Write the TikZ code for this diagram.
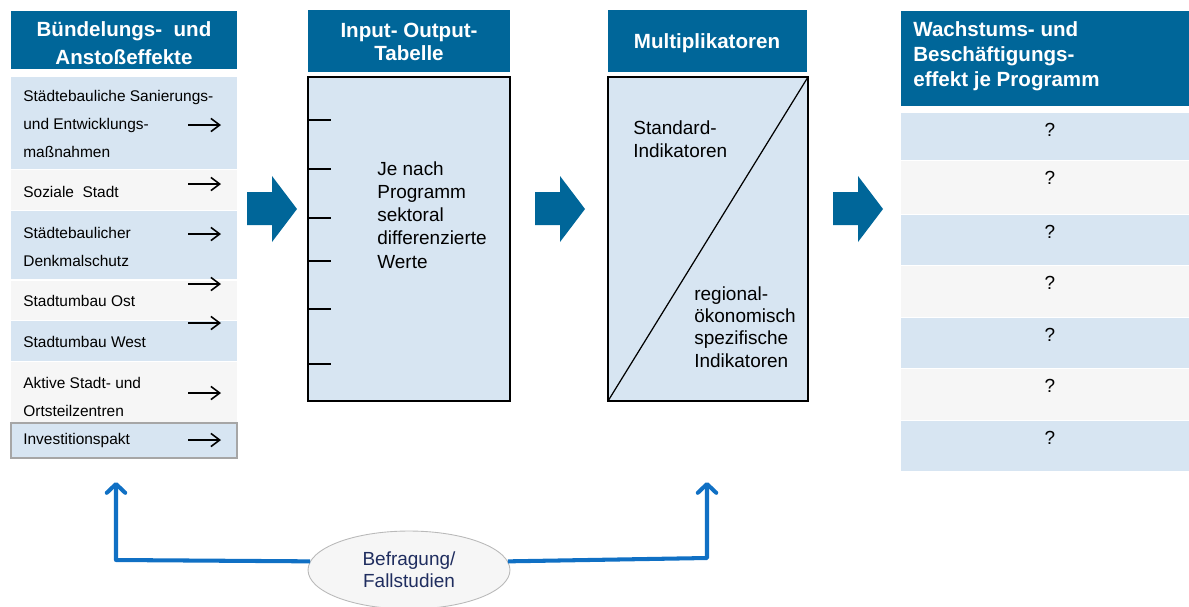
\documentclass[tikz,border=0pt]{standalone}
\usepackage{fontspec}
\setmainfont{Liberation Sans}
\usetikzlibrary{arrows.meta,shapes.geometric}

\definecolor{kopfblau}{RGB}{0,102,153}
\definecolor{hellblau}{RGB}{215,229,242}
\definecolor{hellgrau}{RGB}{246,246,246}
\definecolor{linienblau}{RGB}{16,112,196}
\definecolor{textblau}{RGB}{31,45,95}

\tikzset{
  kopf/.style={text=white,inner sep=0pt,font=\bfseries\fontsize{11.7}{15.9}\selectfont},
  eintrag/.style={anchor=west,align=left,inner sep=0pt,font=\fontsize{8.8}{15.9}\selectfont},
  inhalt/.style={anchor=west,align=left,inner sep=0pt,font=\fontsize{10.8}{13.2}\selectfont},
  frage/.style={inner sep=0pt,font=\fontsize{10.8}{13}\selectfont},
  listpfeil/.style={line width=0.9pt,-{Straight Barb[length=5pt,width=7.5pt]}},
  blaupfeil/.style={linienblau,line width=2.3pt,line join=round,-{Straight Barb[length=5pt,width=10.5pt,round]}}
}

\begin{document}
\begin{tikzpicture}[x=0.02cm,y=-0.02cm]
  \useasboundingbox (0,0) rectangle (1189,606);

  %headers
  \fill[kopfblau] (11,11) rectangle (237,69);
  \node[kopf,align=center] (k1) at (124,43) {Bündelungs-\ \ und\\Anstoßeffekte};
  \fill[kopfblau] (308,10) rectangle (510,72);
  \node[kopf,align=center,font=\bfseries\fontsize{11.7}{13}\selectfont] (k2) at (409,42) {Input- Output-\\Tabelle};
  \fill[kopfblau] (608,10) rectangle (807,72);
  \node[kopf] (k3) at (707,43) {Multiplikatoren};
  \fill[kopfblau] (901,11) rectangle (1189,106);
  \node[kopf,anchor=west,align=left,font=\bfseries\fontsize{11.7}{14.2}\selectfont] (k4) at (913,56)
    {Wachstums- und\\Beschäftigungs-\\effekt je Programm};

  %programme
  \foreach \oben/\unten/\farbe in {77/169/hellblau,170/210/hellgrau,211/279/hellblau,
      281/320/hellgrau,321/361/hellblau,362/422/hellgrau}
    \fill[\farbe] (11,\oben) rectangle (237,\unten);
  \filldraw[fill=hellblau,draw=gray!70,line width=0.6pt] (11,423) rectangle (237,458);
  \node[eintrag] (p1) at (23,124) {Städtebauliche Sanierungs-\\und Entwicklungs-\\maßnahmen};
  \node[eintrag] (p2) at (23,192) {Soziale\ \ Stadt};
  \node[eintrag] (p3) at (23,247) {Städtebaulicher\\Denkmalschutz};
  \node[eintrag] (p4) at (23,301) {Stadtumbau Ost};
  \node[eintrag] (p5) at (23,342) {Stadtumbau West};
  \node[eintrag] (p6) at (23,397) {Aktive Stadt- und\\Ortsteilzentren};
  \node[eintrag] (p7) at (23,440) {Investitionspakt};
  \foreach \y in {125,184,234,284,323,393,440}
    \draw[listpfeil] (188,\y) -- (221,\y);

  %block arrows
  \foreach \x in {247,535,833}
    \fill[kopfblau] (\x,192) -- ++(25,0) -- ++(0,-16) -- ++(25,33) -- ++(-25,33)
      -- ++(0,-17) -- ++(-25,0) -- cycle;

  %input-output table
  \filldraw[fill=hellblau,draw=black,line width=1.1pt] (308,77) rectangle (510,401);
  \foreach \y in {120,169,218,261,309,364}
    \draw[line width=0.6pt] (308,\y) -- (331,\y);
  \node[inhalt] (io) at (377,215) {Je nach\\Programm\\sektoral\\differenzierte\\Werte};

  %multipliers
  \filldraw[fill=hellblau,draw=black,line width=1.1pt] (608,77) rectangle (808,401);
  \draw[line width=0.7pt] (608,401) -- (808,77);
  \node[inhalt] (m1) at (633,139) {Standard-\\Indikatoren};
  \node[inhalt,font=\fontsize{10.8}{12.7}\selectfont] (m2) at (694,327)
    {regional-\\ökonomisch\\spezifische\\Indikatoren};

  %effects
  \foreach \oben/\unten/\farbe [count=\i] in {113/160/hellblau,161/214/hellgrau,215/265/hellblau,
      266/317/hellgrau,318/368/hellblau,369/420/hellgrau,421/471/hellblau}{
    \fill[\farbe] (901,\oben) rectangle (1189,\unten);
    \node[frage] (e\i) at (1050,\oben+17) {?};
  }

  %survey
  \node[ellipse,draw=gray!55,fill=hellgrau,line width=0.5pt,minimum width=4.04cm,minimum height=1.56cm,
    align=center,text=textblau,font=\fontsize{10.8}{12.5}\selectfont] (bef) at (409,570) {Befragung/\\Fallstudien};
  \coordinate (lu) at (116,560);
  \coordinate (lo) at (116,482);
  \coordinate (ru) at (707,558);
  \coordinate (ro) at (707,482);
  \draw[blaupfeil] (bef.175) -- (lu) -- (lo);
  \draw[blaupfeil] (bef.5) -- (ru) -- (ro);
\end{tikzpicture}
\end{document}
